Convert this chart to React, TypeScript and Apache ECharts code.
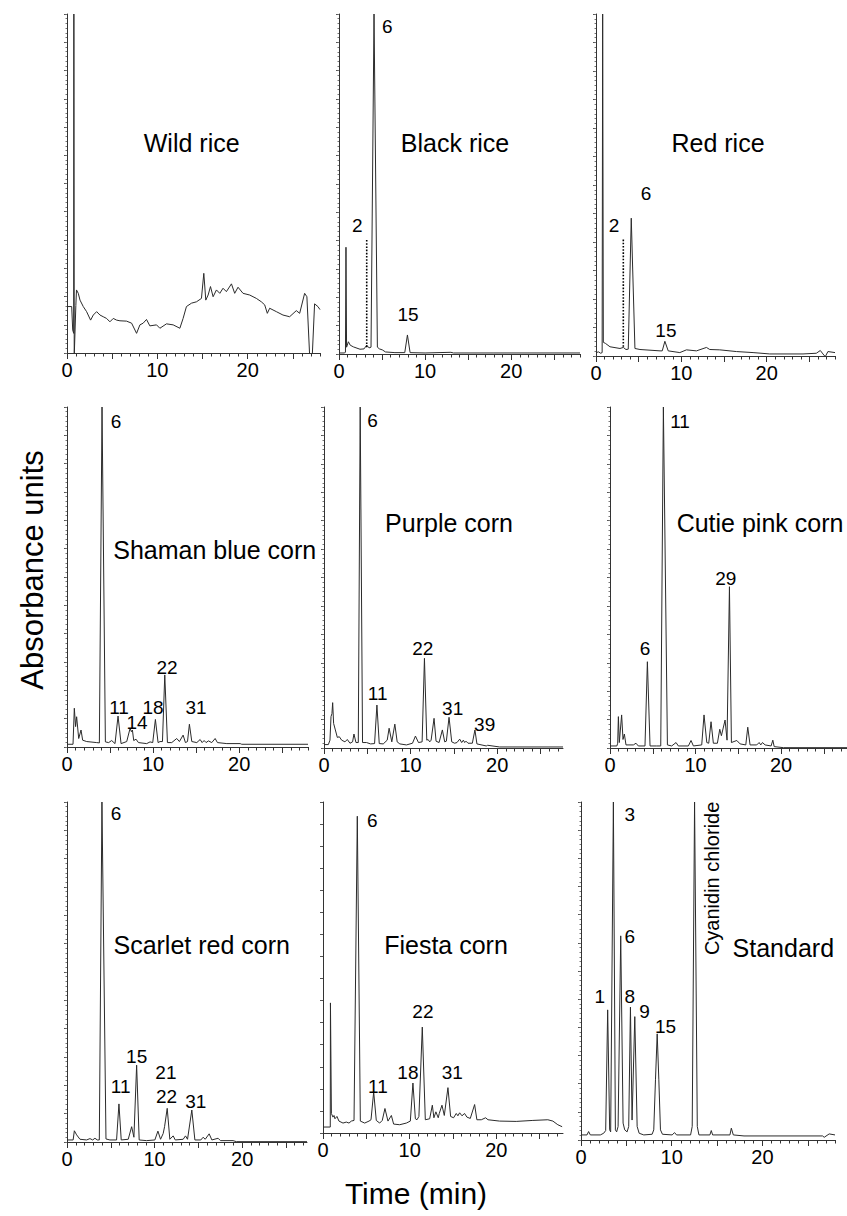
import React, { useEffect, useRef } from "react";
import * as echarts from "echarts";

type Pt = [number, number];
type Lbl = [number, number, string];

const FONT = "'Liberation Sans', Arial, Helvetica, sans-serif";

// ---- traces: [time (min), absorbance (% of panel height)] ----
const wildRice: Pt[] = [
  [0, 13.7], [0.52, 13.7], [0.63, 6.8], [0.74, 5.8], [0.76, 100], [0.8, -1], [0.98, 14], [1.05, 18.6],
  [1.25, 17.6], [1.44, 15.6], [1.8, 13.7], [2.17, 12.2], [2.61, 9.7], [2.91, 11.2], [3.28, 12.2], [3.65, 11.2],
  [4.01, 10.7], [4.38, 10.2], [4.75, 9.2], [5.12, 10.2], [5.49, 9.7], [5.86, 9.5], [6.59, 9.4], [7.15, 8.8],
  [7.7, 5.8], [8.07, 8.3], [8.43, 8.8], [8.8, 9.9], [9.17, 8.0], [9.91, 8.3], [10.28, 7.3], [11.01, 8.6],
  [11.75, 8.3], [12.49, 7.3], [12.85, 10.2], [13.22, 13.7], [13.78, 14.7], [14.33, 15.1], [14.88, 16.1],
  [15.14, 23.5], [15.36, 15.6], [15.62, 17.1], [15.88, 19.6], [16.17, 16.6], [16.54, 18.6], [16.91, 17.6],
  [17.27, 19.1], [17.64, 18.1], [18.2, 20.4], [18.56, 17.6], [18.93, 19.4], [19.48, 17.6], [20.22, 17.1],
  [20.96, 16.1], [21.51, 15.1], [21.88, 14.2], [22.17, 11.7], [22.43, 13.2], [23.17, 12.2], [23.9, 11.2],
  [24.64, 10.7], [25.38, 12.5], [25.75, 11.7], [26.3, 17.6], [26.55, 16.6], [26.85, -0.5], [27.15, -0.5],
  [27.4, 14.5], [27.77, 13.7], [28, 12.8],
];

const blackRice: Pt[] = [
  [0, 0.3], [0.6, 0.3], [0.75, 0.5], [0.81, 31.4], [0.88, 2], [1.09, 3.6], [1.3, 2.6], [1.67, 2.1],
  [2.44, 1.4], [2.91, 1.5], [3.22, 2.6], [3.49, 1.8], [3.72, 2], [4.07, 100], [4.46, 2], [4.7, 1.5],
  [5.04, 1.2], [5.4, 0.6], [6.5, 0.4], [7.64, 0.4], [7.95, 5.6], [8.26, 0.4], [10, 0.3], [13, 0.5],
  [13.3, 0.3], [18, 0.3], [28, 0.3],
];
const blackRiceDotted: Pt[] = [[3.22, 2.0], [3.22, 33.5]];

const redRice: Pt[] = [
  [0, 1.0], [0.3, 1.2], [0.55, 0.8], [0.72, 1], [0.78, 100], [0.86, 4], [1.1, 3.7], [1.64, 2.7],
  [2.81, 2.2], [3.2, 2.5], [3.51, 1.9], [3.78, 2], [4.13, 40.3], [4.56, 2.2], [5.15, 1.9], [7.5, 1.5],
  [7.76, 1.5], [8.07, 4.3], [8.46, 1.5], [9.82, 1.0], [10.6, 1.8], [11.77, 1.5], [12.94, 2.5], [13.33, 1.9],
  [14.5, 1.8], [16.45, 1.3], [18.4, 1.0], [20.35, 0.6], [24.25, 0.6], [25.81, 0.8], [26.28, 1.6],
  [26.59, 0.6], [26.86, -0.2], [27.17, 1.3], [28, 1.0],
];
const redRiceDotted: Pt[] = [[3.2, 2.7], [3.2, 34.5]];

const shamanBlue: Pt[] = [
  [0, 0.8], [0.7, 0.8], [0.85, 11.4], [1.0, 6], [1.12, 8.9], [1.36, 2.5], [1.63, 5.0], [1.82, 2.0],
  [2.29, 1.6], [3.45, 1.3], [3.76, 1.2], [4.07, 100], [4.46, 1.5], [4.84, 1.3], [5.19, 1.9], [5.58, 1.0],
  [5.93, 9.1], [6.28, 1.0], [6.94, 1.6], [7.33, 5.5], [7.48, 4.5], [7.6, 5.0], [7.75, 1.9], [8.02, 2.3],
  [8.3, 1.3], [9.26, 1.0], [9.65, 1.5], [9.96, 1.3], [10.27, 8.1], [10.58, 1.3], [10.81, 1.6], [11.09, 1.6],
  [11.36, 21.2], [11.67, 1.3], [12.17, 1.3], [12.75, 2.5], [13.06, 1.6], [13.49, 3.5], [13.76, 1.3],
  [14.0, 1.6], [14.22, 6.7], [14.5, 1.6], [15.08, 1.3], [15.47, 2.2], [15.7, 1.3], [15.93, 1.9], [16.16, 1.3],
  [16.43, 1.8], [16.82, 1.3], [17.21, 2.5], [17.48, 1.3], [18.57, 1.0], [20.12, 1.0], [20.3, 0.8], [28, 0.8],
];

const purpleCorn: Pt[] = [
  [0, 1.0], [0.5, 1.0], [0.69, 2.3], [0.81, 9.2], [0.92, 10.1], [1.0, 13.3], [1.11, 7.2], [1.31, 5.3],
  [1.54, 3.1], [1.77, 3.3], [2.04, 2.3], [2.42, 1.8], [2.69, 2.5], [3.0, 1.4], [3.3, 1.8], [3.46, 4.1],
  [3.69, 1.6], [3.96, 1.6], [4.18, 100], [4.45, 1.6], [4.91, 1.6], [5.38, 1.2], [5.84, 1.3], [6.11, 12.6],
  [6.38, 1.3], [6.84, 1.2], [7.3, 2.3], [7.52, 5.8], [7.83, 1.8], [8.18, 7.0], [8.45, 1.8], [8.76, 1.2],
  [9.52, 0.9], [10.22, 1.4], [10.56, 3.5], [10.91, 1.6], [11.33, 1.8], [11.6, 26.3], [11.87, 2.3],
  [12.02, 2.5], [12.21, 1.8], [12.37, 2.3], [12.71, 8.7], [12.94, 2.0], [13.29, 1.6], [13.67, 5.3],
  [13.94, 1.8], [14.13, 2.0], [14.44, 9.0], [14.75, 1.8], [15.09, 1.4], [15.36, 1.6], [15.67, 2.6],
  [15.9, 1.6], [16.09, 2.3], [16.25, 1.6], [16.4, 2.0], [16.63, 1.4], [17.13, 1.4], [17.43, 5.3],
  [17.66, 1.2], [18.74, 0.6], [18.9, 0.8], [20.28, 0.3], [27.6, 0.3],
];

const cutiePink: Pt[] = [
  [0, 0.6], [0.8, 0.6], [0.9, 1.4], [0.98, 9.2], [1.09, 1.6], [1.36, 9.7], [1.52, 2.5], [1.68, 4.1],
  [1.87, 0.9], [2.73, 0.9], [3.04, 1.4], [3.31, 0.6], [4.09, 0.6], [4.37, 25.3], [4.68, 0.6], [5.46, 0.6],
  [5.93, 0.6], [6.24, 100], [6.71, 0.9], [7.21, 0.6], [7.72, 1.6], [7.99, 0.6], [9.16, 0.6], [9.47, 2.2],
  [9.75, 0.6], [10.72, 0.9], [10.99, 9.7], [11.31, 1.6], [11.54, 1.4], [11.81, 7.7], [12.08, 1.4],
  [12.55, 1.4], [12.83, 5.5], [13.02, 3.6], [13.45, 8.2], [13.68, 2.3], [13.96, 47.3], [14.19, 1.6],
  [14.5, 1.9], [14.82, 2.2], [15.21, 1.2], [15.87, 0.9], [16.1, 6.1], [16.37, 0.9], [17.15, 0.9],
  [17.43, 1.6], [17.62, 0.9], [17.82, 1.6], [18.13, 0.9], [18.83, 0.6], [19.03, 2.3], [19.19, 0.4],
  [20.27, 0.1], [27.8, 0.1],
];

const scarletRed: Pt[] = [
  [0, 0.6], [0.7, 0.6], [0.84, 3.3], [1.1, 2.1], [1.48, 0.8], [2.24, 0.6], [2.62, 1.0], [2.93, 0.6],
  [3.19, 1.1], [3.46, 0.6], [3.69, 0.6], [3.99, 100], [4.45, 0.9], [4.9, 0.6], [5.66, 0.6], [5.93, 11.2],
  [6.19, 0.6], [6.99, 0.8], [7.38, 4.5], [7.64, 1.4], [7.95, 22.6], [8.24, 0.6], [9.08, 0.4], [10.03, 0.6],
  [10.38, 3.2], [10.68, 0.8], [10.98, 2.5], [11.14, 4.5], [11.44, 9.9], [11.74, 0.8], [12.12, 1.8],
  [12.36, 0.6], [13.26, 0.8], [13.53, 1.8], [13.76, 0.8], [14.25, 9.4], [14.6, 0.6], [15.28, 0.6],
  [15.54, 1.4], [15.78, 0.8], [16.23, 2.4], [16.54, 0.6], [17.25, 1.1], [17.52, 0.4], [18.96, 0.4],
  [19.34, 0.1], [27.4, 0.1],
];

const fiestaCorn: Pt[] = [
  [0, 1.8], [0.84, 1.8], [0.86, 39.3], [0.97, 5.9], [1.15, 4.8], [1.27, 5.3], [1.38, 4.3], [1.61, 5.0],
  [1.84, 3.6], [2.31, 3.0], [2.69, 3.3], [3.0, 3.0], [3.27, 3.6], [3.58, 3.8], [3.96, 95.7], [4.31, 3.6],
  [4.81, 3.0], [5.31, 3.6], [5.54, 4.0], [5.85, 12.4], [6.15, 3.8], [6.54, 3.0], [6.84, 3.8], [7.15, 7.4],
  [7.5, 3.6], [7.89, 5.3], [8.15, 2.7], [8.85, 2.5], [9.62, 3.0], [10.08, 3.6], [10.38, 15.1], [10.66, 4.3],
  [10.85, 4.0], [11.07, 5.0], [11.46, 32.0], [11.81, 4.0], [12.31, 4.3], [12.62, 8.4], [12.8, 4.6],
  [13.03, 6.4], [13.3, 4.6], [13.42, 5.9], [13.73, 8.4], [14.0, 5.3], [14.42, 13.7], [14.73, 5.0],
  [15.07, 4.6], [15.38, 5.9], [15.57, 5.2], [15.77, 6.1], [16.04, 5.2], [16.34, 5.9], [16.61, 4.8],
  [17.0, 4.4], [17.5, 8.6], [17.76, 4.0], [18.27, 4.0], [18.77, 4.6], [19.04, 4.0], [20.38, 3.6],
  [22.3, 3.5], [24.22, 3.8], [25.95, 4.0], [26.53, 3.6], [27.1, 2.5], [27.6, 1.9],
];

const standardMix: Pt[] = [
  [0, 1.5], [0.66, 1.5], [0.84, 2.5], [1.03, 1.5], [2.13, 1.5], [2.5, 2.0], [2.72, 2.8], [2.94, 38.5],
  [3.16, 3.0], [3.27, 2.4], [3.57, 100], [3.79, 3.0], [3.93, 2.4], [4.09, 4.0], [4.38, 60.4], [4.64, 5.0],
  [4.82, 3.0], [5.08, 2.4], [5.26, 4.0], [5.45, 39.3], [5.63, 5.9], [5.93, 36.5], [6.19, 4.0], [6.41, 2.0],
  [6.92, 1.5], [7.84, 1.7], [8.02, 3.0], [8.21, 17.8], [8.4, 31.4], [8.58, 17.8], [8.76, 3.0], [8.98, 1.7],
  [10.05, 1.5], [10.31, 2.2], [10.53, 1.5], [12.08, 1.5], [12.26, 4.0], [12.52, 100], [12.82, 4.0],
  [13.0, 1.5], [14.21, 1.5], [14.36, 2.8], [14.51, 1.5], [16.42, 1.5], [16.57, 3.5], [16.79, 1.5],
  [17.97, 1.2], [26.63, 1.2], [26.81, 0.8], [27.36, 1.8], [28, 1.5],
];

// ---- peak labels: [time, absorbance, text] ----
const blackRiceLabels: Lbl[] = [[2.13, 37.9, "2"], [5.62, 96.2, "6"], [8.02, 11.5, "15"]];
const redRiceLabels: Lbl[] = [[2.11, 38.3, "2"], [5.85, 47.4, "6"], [8.19, 7.6, "15"]];
const shamanBlueLabels: Lbl[] = [
  [5.7, 95.7, "6"], [6.05, 11.5, "11"], [8.14, 7.1, "14"], [10.0, 11.5, "18"], [11.63, 23.5, "22"], [15.0, 11.5, "31"],
];
const purpleCornLabels: Lbl[] = [
  [5.61, 96.0, "6"], [6.19, 16.1, "11"], [11.41, 29.3, "22"], [14.86, 11.7, "31"], [18.55, 7.0, "39"],
];
const cutiePinkLabels: Lbl[] = [[4.09, 29.3, "6"], [8.19, 95.7, "11"], [13.53, 49.6, "29"]];
const scarletRedLabels: Lbl[] = [
  [5.59, 96.5, "6"], [6.12, 16.3, "11"], [7.95, 25.1, "15"], [11.29, 20.4, "21"], [11.37, 13.3, "22"], [14.71, 11.9, "31"],
];
const fiestaCornLabels: Lbl[] = [
  [5.7, 94.3, "6"], [6.34, 13.9, "11"], [9.8, 18.4, "18"], [11.53, 36.6, "22"], [14.92, 18.4, "31"],
];
const standardLabels: Lbl[] = [
  [2.06, 42.4, "1"], [5.37, 96.2, "3"], [5.37, 60.1, "6"], [5.37, 42.4, "8"], [6.99, 38.0, "9"], [9.31, 33.5, "15"],
];
const standardRotatedLabels: Lbl[] = [[14.47, 77.4, "Cyanidin chloride"]];

const sampleNames = [
  "Wild rice", "Black rice", "Red rice",
  "Shaman blue corn", "Purple corn", "Cutie pink corn",
  "Scarlet red corn", "Fiesta corn", "Standard",
];
const xTickLabels = [0, 10, 20];
const yAxisTitle = "Absorbance units";
const xAxisTitle = "Time (min)";

// ---- layout (pixels) ----
const layout = [
  { left: 67, top: 14, width: 253, height: 339, xMax: 28, yMajor: 12, yMinor: 6, tx: 191.7, ty: 143 },
  { left: 339, top: 14, width: 241, height: 340, xMax: 28, yMajor: 12, yMinor: 6, tx: 455, ty: 143 },
  { left: 596, top: 14, width: 239, height: 342, xMax: 28, yMajor: 12, yMinor: 6, tx: 718, ty: 143 },
  { left: 67, top: 407, width: 241, height: 340, xMax: 28, yMajor: 12, yMinor: 6, tx: 214.7, ty: 550 },
  { left: 324, top: 407, width: 239, height: 341, xMax: 27.6, yMajor: 12, yMinor: 6, tx: 449, ty: 523 },
  { left: 610, top: 407, width: 237, height: 341, xMax: 27.7, yMajor: 12, yMinor: 6, tx: 760, ty: 523 },
  { left: 67, top: 802, width: 240, height: 340, xMax: 27.4, yMajor: 12, yMinor: 6, tx: 201.7, ty: 945 },
  { left: 323, top: 802, width: 240, height: 331, xMax: 27.7, yMajor: 15, yMinor: 0, tx: 446, ty: 945 },
  { left: 581, top: 802, width: 254, height: 338, xMax: 28, yMajor: 12, yMinor: 6, tx: 783.3, ty: 948 },
];

const panels = [
  { trace: wildRice, labels: [] as Lbl[], dotted: null as Pt[] | null },
  { trace: blackRice, labels: blackRiceLabels, dotted: blackRiceDotted },
  { trace: redRice, labels: redRiceLabels, dotted: redRiceDotted },
  { trace: shamanBlue, labels: shamanBlueLabels, dotted: null },
  { trace: purpleCorn, labels: purpleCornLabels, dotted: null },
  { trace: cutiePink, labels: cutiePinkLabels, dotted: null },
  { trace: scarletRed, labels: scarletRedLabels, dotted: null },
  { trace: fiestaCorn, labels: fiestaCornLabels, dotted: null },
  { trace: standardMix, labels: standardLabels, dotted: null },
];

const AXIS_COLOR = "#333";
const TRACE_COLOR = "#2b2b2b";

function steps(max: number, step: number): number[] {
  const out: number[] = [];
  for (let v = 0; v <= max + 1e-9; v += step) out.push(Math.round(v * 1000) / 1000);
  return out;
}

const labelStyle = (size: number, extra: any = {}) => ({
  show: true, position: "inside", formatter: "{b}", fontSize: size, color: "#000", fontFamily: FONT,
  textBorderWidth: 0, textBorderColor: "transparent", opacity: 1, ...extra,
});

function buildOption() {
  const grid: any[] = [];
  const xAxis: any[] = [];
  const yAxis: any[] = [];
  const series: any[] = [];
  const graphic: any[] = [];

  layout.forEach((l, i) => {
    grid.push({ left: l.left, top: l.top, width: l.width, height: l.height, containLabel: false });
    xAxis.push({
      type: "value", gridIndex: i, min: 0, max: l.xMax, position: "bottom",
      axisLine: { show: true, lineStyle: { color: AXIS_COLOR, width: 1 } },
      axisTick: { show: true, customValues: steps(l.xMax, 5), length: 6, lineStyle: { color: AXIS_COLOR, width: 1 } },
      axisLabel: {
        show: true, customValues: xTickLabels, fontSize: 20, color: "#000", fontFamily: FONT, margin: 7,
        formatter: (v: number) => String(v),
      },
      splitLine: { show: false },
    });
    xAxis.push({
      type: "value", gridIndex: i, min: 0, max: l.xMax, position: "bottom",
      axisLine: { show: false },
      axisTick: { show: true, customValues: steps(l.xMax, 1), length: 3.5, lineStyle: { color: AXIS_COLOR, width: 1 } },
      axisLabel: { show: false },
      splitLine: { show: false },
    });
    yAxis.push({
      type: "value", gridIndex: i, min: 0, max: 100, position: "left",
      axisLine: { show: true, lineStyle: { color: AXIS_COLOR, width: 1 } },
      axisTick: { show: true, customValues: steps(100, 100 / l.yMajor), length: 3, lineStyle: { color: "#555", width: 1 } },
      axisLabel: { show: false },
      splitLine: { show: false },
    });
    yAxis.push({
      type: "value", gridIndex: i, min: 0, max: 100, position: "left",
      axisLine: { show: false },
      axisTick: {
        show: l.yMinor > 0,
        customValues: l.yMinor > 0 ? steps(100, 100 / (l.yMajor * l.yMinor)) : [0],
        length: 1.5, lineStyle: { color: "#777", width: 1 },
      },
      axisLabel: { show: false },
      splitLine: { show: false },
    });

    const p = panels[i];
    const xi = 2 * i;
    const yi = 2 * i;
    series.push({
      type: "line", xAxisIndex: xi, yAxisIndex: yi, data: p.trace, symbol: "none", silent: true,
      lineStyle: { color: TRACE_COLOR, width: 1 }, clip: true, z: 3,
    });
    if (p.dotted) {
      series.push({
        type: "line", xAxisIndex: xi, yAxisIndex: yi, data: p.dotted, symbol: "none", silent: true,
        lineStyle: { color: "#000", width: 1.6, type: [1.6, 1.6] }, z: 4,
      });
    }
    if (p.labels.length) {
      series.push({
        type: "scatter", xAxisIndex: xi, yAxisIndex: yi, symbolSize: 1, silent: true,
        itemStyle: { color: "#000", opacity: 0 },
        data: p.labels.map(([t, v, s]) => ({ name: s, value: [t, v] })),
        label: labelStyle(19),
        emphasis: { disabled: true },
        z: 5, clip: false,
      });
    }
    if (i === 8) {
      series.push({
        type: "scatter", xAxisIndex: xi, yAxisIndex: yi, symbolSize: 1, silent: true,
        itemStyle: { color: "#000", opacity: 0 },
        data: standardRotatedLabels.map(([t, v, s]) => ({ name: s, value: [t, v] })),
        label: labelStyle(20, { rotate: 90 }),
        emphasis: { disabled: true },
        z: 5, clip: false,
      });
    }

    graphic.push({
      type: "text", x: l.tx, y: l.ty, silent: true,
      style: { text: sampleNames[i], fontSize: 25, fontFamily: FONT, fill: "#000", align: "center", verticalAlign: "middle" },
    });
  });

  graphic.push({
    type: "text", x: 32, y: 570, rotation: Math.PI / 2, silent: true,
    style: { text: yAxisTitle, fontSize: 31, fontFamily: FONT, fill: "#000", align: "center", verticalAlign: "middle" },
  });
  graphic.push({
    type: "text", x: 416, y: 1193, silent: true,
    style: { text: xAxisTitle, fontSize: 30, fontFamily: FONT, fill: "#000", align: "center", verticalAlign: "middle" },
  });

  return { animation: false, backgroundColor: "#fff", grid, xAxis, yAxis, series, graphic };
}

export default function App() {
  const ref = useRef<HTMLDivElement>(null);
  useEffect(() => {
    const chart = echarts.init(ref.current!, null, { renderer: "svg" });
    chart.setOption(buildOption() as any);
    return () => chart.dispose();
  }, []);
  return (
    <div
      ref={ref}
      style={{ position: "absolute", left: 0, top: 0, width: 847, height: 1216, background: "#fff" }}
    />
  );
}
